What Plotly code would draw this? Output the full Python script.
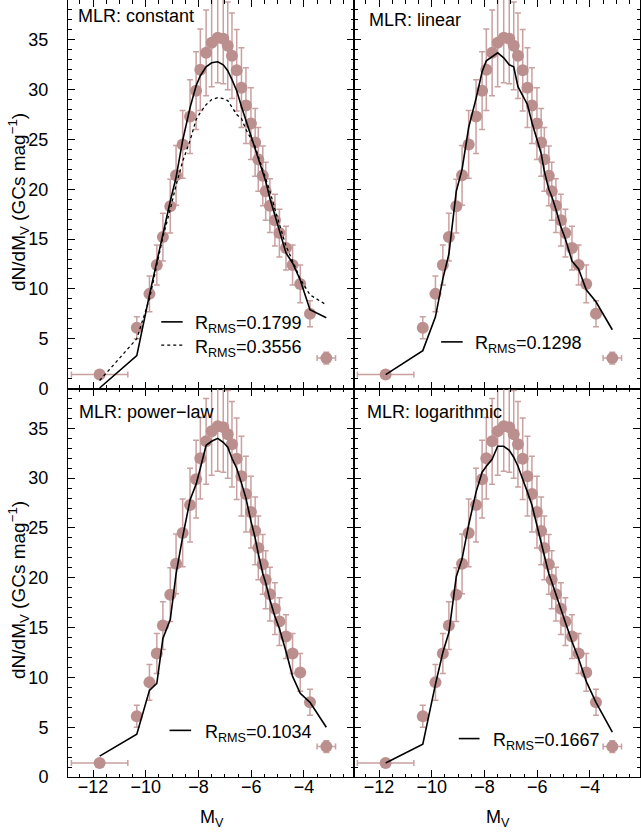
import plotly.graph_objects as go
from plotly.subplots import make_subplots

# ---------------- data ----------------
mv = [-11.75, -10.34, -9.86, -9.58, -9.35, -9.07, -8.85, -8.60, -8.32, -8.09,
      -7.93, -7.71, -7.50, -7.27, -7.06, -6.89, -6.73, -6.55, -6.37, -6.20,
      -6.01, -5.85, -5.73, -5.56, -5.45, -5.29, -5.10, -4.93, -4.68, -4.43,
      -4.14, -3.77, -3.15]
dndm = [1.4, 6.1, 9.5, 12.4, 15.2, 18.3, 21.4, 24.5, 27.3, 29.9,
        32.0, 33.7, 34.7, 35.2, 35.1, 34.4, 33.4, 31.95, 30.2, 28.4,
        26.6, 24.7, 23.0, 21.35, 19.8, 18.35, 16.9, 15.6, 14.1, 12.4,
        10.5, 7.5, 3.05]
dndm_err = [0.3, 1.1, 1.8, 2.0, 2.4, 2.7, 3.0, 3.4, 3.7, 3.9,
            4.1, 4.3, 4.4, 4.5, 4.5, 4.4, 4.3, 4.1, 4.0, 3.8,
            3.6, 3.4, 3.2, 3.0, 2.9, 2.7, 2.6, 2.4, 2.2, 2.0,
            1.9, 1.3, 0.6]
mv_err = [1.07, 0, 0, 0, 0, 0, 0, 0, 0, 0,
          0, 0, 0, 0, 0, 0, 0, 0, 0, 0,
          0, 0, 0, 0, 0, 0, 0, 0, 0, 0,
          0, 0, 0.35]

model_constant = [0.05, 3.3, 9.4, 12.8, 15.5, 18.8, 21.2, 24.9, 28.2, 30.4,
                  31.4, 32.3, 32.7, 32.8, 32.5, 31.9, 31.0, 29.9, 28.3, 26.9,
                  25.3, 24.1, 23.0, 21.6, 20.8, 19.1, 17.4, 15.8, 13.6, 12.6,
                  10.9, 7.9, 7.1]
model_constant2 = [0.8, 5.0, 9.0, 12.4, 15.2, 18.0, 20.4, 22.8, 24.9, 27.0,
                   27.7, 28.5, 29.0, 29.2, 29.1, 28.9, 28.2, 27.5, 27.1, 26.0,
                   25.1, 24.3, 23.3, 22.0, 21.2, 19.8, 18.0, 16.4, 14.3, 12.8,
                   11.0, 9.4, 8.4]
model_linear = [1.4, 3.8, 7.2, 11.0, 13.5, 19.8, 22.0, 26.2, 29.1, 31.8,
                32.9, 33.3, 33.7, 33.2, 32.5, 32.3, 30.3, 29.4, 28.5, 26.7,
                25.0, 23.6, 21.8, 20.0, 19.3, 18.0, 16.2, 15.0, 12.8, 12.0,
                9.9, 8.7, 5.9]
model_powerlaw = [2.1, 4.3, 8.7, 9.4, 13.9, 15.8, 20.4, 24.1, 27.8, 29.4,
                  31.0, 33.3, 33.7, 34.0, 33.6, 33.1, 32.0, 31.0, 29.5, 28.0,
                  25.7, 24.0, 22.4, 20.4, 19.5, 17.8, 16.1, 14.9, 12.6, 10.1,
                  8.4, 7.5, 5.0]
model_log = [1.4, 3.3, 9.3, 12.5, 14.5, 20.1, 21.9, 25.3, 28.6, 30.6,
             31.2, 31.9, 33.2, 33.2, 32.8, 32.1, 31.2, 30.0, 28.6, 27.3,
             25.3, 23.7, 22.5, 20.4, 19.6, 18.3, 16.8, 15.5, 13.6, 11.9,
             9.6, 7.5, 4.5]

panel_titles = ["MLR: constant", "MLR: linear", "MLR: power\u2212law", "MLR: logarithmic"]
rms_labels = [["0.1799", "0.3556"], ["0.1298"], ["0.1034"], ["0.1667"]]

# ---------------- figure ----------------
FONT = "Liberation Sans, Arial, Helvetica, sans-serif"
PT_COLOR = "#bc8f8f"
ERR_COLOR = "rgba(192,145,145,0.85)"

fig = make_subplots(rows=2, cols=2, horizontal_spacing=0, vertical_spacing=0)

panels = [(1, 1), (1, 2), (2, 1), (2, 2)]
models = [[(model_constant, "solid"), (model_constant2, "dot")],
          [(model_linear, "solid")],
          [(model_powerlaw, "solid")],
          [(model_log, "solid")]]

for i, (r, c) in enumerate(panels):
    fig.add_trace(go.Scatter(
        x=mv, y=dndm, mode="markers",
        marker=dict(size=12, color=PT_COLOR, line=dict(width=0)),
        error_y=dict(type="data", array=dndm_err, color=ERR_COLOR, thickness=1.5, width=3),
        error_x=dict(type="data", array=mv_err, color=ERR_COLOR, thickness=1.5, width=3),
        showlegend=False), row=r, col=c)
    for yv, dash in models[i]:
        fig.add_trace(go.Scatter(
            x=mv, y=yv, mode="lines",
            line=dict(color="black", width=1.6 if dash == "solid" else 1.3, dash=dash),
            showlegend=False), row=r, col=c)

axis_common = dict(showline=True, linecolor="black", linewidth=1, mirror="ticks",
                   ticks="inside", ticklen=7, tickwidth=1, tickcolor="black",
                   showgrid=False, zeroline=False, automargin=False,
                   tickfont=dict(family=FONT, size=18, color="black"))

for i, (r, c) in enumerate(panels):
    fig.update_xaxes(range=[-12.95, -2.1], tick0=-12, dtick=2,
                     minor=dict(ticks="inside", ticklen=3.5, dtick=0.5, tick0=-12,
                                tickcolor="black", showgrid=False),
                     showticklabels=(r == 2), ticklabelstandoff=-7,
                     row=r, col=c, **axis_common)
    fig.update_yaxes(range=[0, 39], tick0=0, dtick=5,
                     minor=dict(ticks="inside", ticklen=3.5, dtick=1, tick0=0,
                                tickcolor="black", showgrid=False),
                     showticklabels=(c == 1), ticklabelstandoff=15,
                     row=r, col=c, **axis_common)

# panel geometry (domain fractions)
title_pos = [(0.027, 0.958), (0.046, 0.948), (0.031, 0.94), (0.039, 0.94)]
legend_pos = [
    [(0.326, 0.401, 0.1715, 0.4386), (0.326, 0.401, 0.1115, 0.4386)],
    [(0.3046, 0.380, 0.120, 0.4154)],
    [(0.355, 0.4306, 0.120, 0.471)],
    [(0.3663, 0.4389, 0.0989, 0.48)],
]
axnames = ["", "2", "3", "4"]
annotations = []
shapes = []
for i in range(4):
    xr = "x" + axnames[i] + " domain"
    yr = "y" + axnames[i] + " domain"
    tx, ty = title_pos[i]
    annotations.append(dict(text=panel_titles[i], x=tx, y=ty, xref=xr, yref=yr,
                            xanchor="left", yanchor="middle", showarrow=False,
                            font=dict(family=FONT, size=18, color="black")))
    for j, (x0, x1, yy, txx) in enumerate(legend_pos[i]):
        dash = "solid" if j == 0 else "dot"
        shapes.append(dict(type="line", xref=xr, yref=yr, x0=x0, x1=x1, y0=yy, y1=yy,
                           line=dict(color="black", width=1.6 if j == 0 else 1.3, dash=dash)))
        annotations.append(dict(text="R<sub>RMS</sub>=" + rms_labels[i][j],
                                x=txx, y=yy, xref=xr, yref=yr, xanchor="left",
                                yanchor="middle", yshift=-3, showarrow=False,
                                font=dict(family=FONT, size=18, color="black")))

# axis titles as annotations (paper coords: plot area 68..640 px, 0..777 px)
W, H = 641, 833
L, R, T, B = 68, 1, 0, 56
pw, ph = W - L - R, H - T - B

def px2paper(px, py):
    return (px - L) / pw, 1 - (py - T) / ph

ytitle = "dN/dM<sub>V</sub> (GCs mag<sup>\u22121</sup>)"
for py in (202, 590):
    x, y = px2paper(18, py)
    annotations.append(dict(text=ytitle, x=x, y=y, xref="paper", yref="paper",
                            xanchor="center", yanchor="middle", textangle=-90,
                            showarrow=False, font=dict(family=FONT, size=19, color="black")))
for pxc in (211.5, 497.5):
    x, y = px2paper(pxc, 818)
    annotations.append(dict(text="M<sub>V</sub>", x=x, y=y, xref="paper", yref="paper",
                            xanchor="center", yanchor="middle",
                            showarrow=False, font=dict(family=FONT, size=18, color="black")))

fig.update_layout(width=W, height=H, margin=dict(l=L, r=R, t=T, b=B, autoexpand=False),
                  paper_bgcolor="white", plot_bgcolor="white",
                  annotations=annotations, shapes=shapes, showlegend=False,
                  font=dict(family=FONT, size=18, color="black"))

fig.write_html("out.html", config={"displayModeBar": False},
               post_script="document.body.style.margin='0';document.body.style.overflow='hidden';")
